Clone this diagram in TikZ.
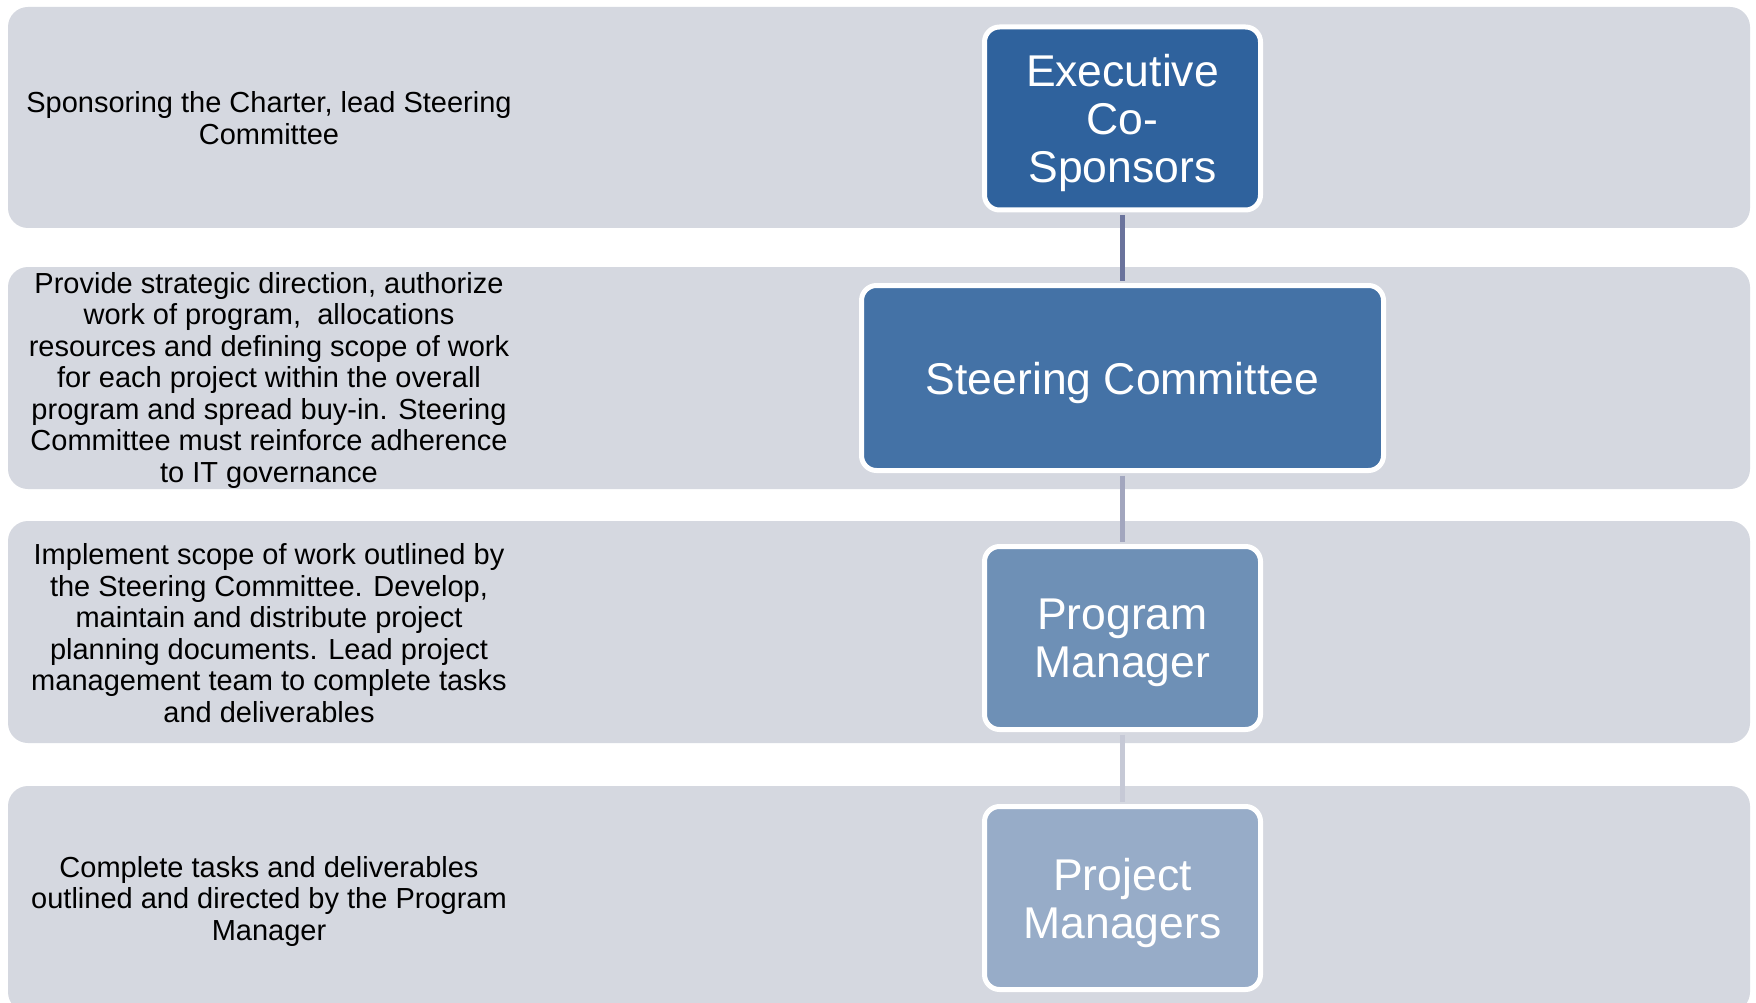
\documentclass[tikz,border=0pt]{standalone}
\usepackage{fontspec}
\setmainfont{Liberation Sans}

\definecolor{bandgray}{HTML}{D5D8E0}
\definecolor{execblue}{HTML}{2F629D}
\definecolor{steerblue}{HTML}{4472A6}
\definecolor{progblue}{HTML}{6E90B6}
\definecolor{projblue}{HTML}{97ACC8}
\definecolor{linkone}{HTML}{6A739C}
\definecolor{linktwo}{HTML}{A2A6BE}
\definecolor{linkthree}{HTML}{C6C9D6}

\tikzset{
  band/.style={fill=bandgray, rounded corners=20pt},
  rolebox/.style={draw=white, line width=5pt, rounded corners=15pt, text=white,
    align=center, inner sep=0pt, minimum width=276pt, minimum height=183pt,
    text depth=0pt, font=\fontsize{44.5}{48}\selectfont},
  desc/.style={align=center, text=black, font=\fontsize{29}{31.5}\selectfont},
  link/.style={line width=5pt, shorten <=2.5pt, shorten >=2.5pt}
}

\begin{document}
\begin{tikzpicture}[x=1pt,y=-1pt]
        \useasboundingbox (0,0) rectangle (1756,1003);
        \fill[white] (0,0) rectangle (1756,1003);

        \fill[band] (8,7) rectangle (1750,228);
        \fill[band] (8,267) rectangle (1750,489);
        \fill[band] (8,521) rectangle (1750,743);
        \fill[band] (8,786) rectangle (1750,1012);

        \node[rolebox, fill=execblue] (exec) at (1122.5,118.5) {Executive\\Co-\\Sponsors};
        \node[rolebox, fill=steerblue, minimum width=522pt, minimum height=185pt] (steer) at (1122.5,378) {Steering Committee};
        \node[rolebox, fill=progblue] (prog) at (1122.5,638) {Program\\Manager};
        \node[rolebox, fill=projblue] (proj) at (1122.5,898) {Project\\Managers};

        \draw[link, linkone] (exec) -- (steer);
        \draw[link, linktwo] (steer) -- (prog);
        \draw[link, linkthree] (prog) -- (proj);

        \node[desc] (spons) at (269,118) {Sponsoring the Charter, lead Steering\\Committee};
        \node[desc] (strat) at (269,380) {Provide strategic direction, authorize\\work of program, \ allocations\\resources and defining scope of work\\for each project within the overall\\program and spread buy-in. Steering\\Committee must reinforce adherence\\to IT governance};
        \node[desc] (impl) at (269,633) {Implement scope of work outlined by\\the Steering Committee. Develop,\\maintain and distribute project\\planning documents. Lead project\\management team to complete tasks\\and deliverables};
        \node[desc] (tasks) at (269,901) {Complete tasks and deliverables\\outlined and directed by the Program\\Manager};
      \end{tikzpicture}
\end{document}
